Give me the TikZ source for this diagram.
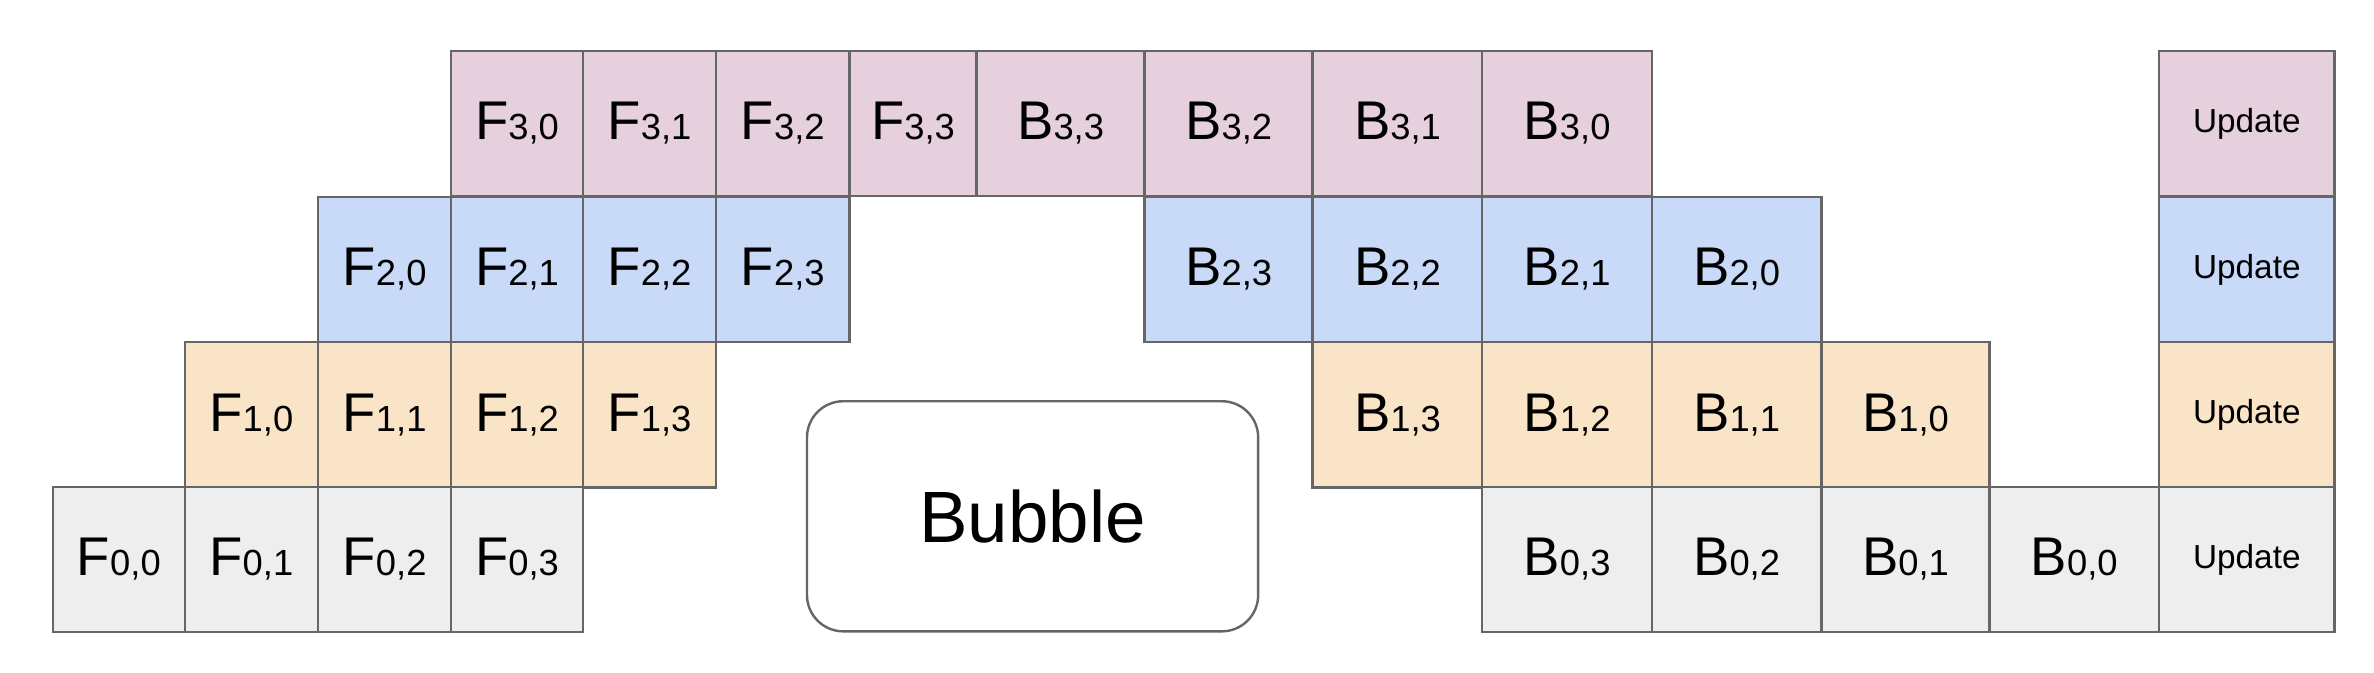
\documentclass[tikz,border=0pt]{standalone}
\usepackage{fontspec}
\setmainfont{Liberation Sans}
\definecolor{cpink}{HTML}{E6D0DE}
\definecolor{cblue}{HTML}{C9DAF8}
\definecolor{corange}{HTML}{F9E4C8}
\definecolor{cgray}{HTML}{EEEEEE}
\definecolor{cline}{HTML}{666666}
\newcommand\Lb[3]{#1{\fontsize{12}{12}\selectfont #2,#3}}
\newcommand\cell[6]{\node[cellbox,fill=#5,minimum width={(#3-#2)*0.5pt}] (#1) at ({(#2+#3)/2},#4) {#6};}
\begin{document}
\begin{tikzpicture}[x=0.5pt,y=-0.5pt,
  cellbox/.style={draw=cline,line width=0.8pt,minimum height=48pt,inner sep=0pt,font=\fontsize{18}{18}\selectfont},
  updbox/.style={font=\fontsize{11}{11}\selectfont}]
\useasboundingbox (0,0) rectangle (1568,444);
% row 3
\def\y{81.5}
\cell{f30}{298}{385}{\y}{cpink}{\Lb F30}
\cell{f31}{385}{473}{\y}{cpink}{\Lb F31}
\cell{f32}{473}{561}{\y}{cpink}{\Lb F32}
\cell{f33}{561}{645}{\y}{cpink}{\Lb F33}
\cell{b33}{645}{756}{\y}{cpink}{\Lb B33}
\cell{b32}{756}{867}{\y}{cpink}{\Lb B32}
\cell{b31}{867}{979}{\y}{cpink}{\Lb B31}
\cell{b30}{979}{1091}{\y}{cpink}{\Lb B30}
\cell{u3}{1426}{1542}{\y}{cpink}{\fontsize{11}{11}\selectfont Update}
% row 2
\def\y{178}
\cell{f20}{210}{298}{\y}{cblue}{\Lb F20}
\cell{f21}{298}{385}{\y}{cblue}{\Lb F21}
\cell{f22}{385}{473}{\y}{cblue}{\Lb F22}
\cell{f23}{473}{561}{\y}{cblue}{\Lb F23}
\cell{b23}{756}{867}{\y}{cblue}{\Lb B23}
\cell{b22}{867}{979}{\y}{cblue}{\Lb B22}
\cell{b21}{979}{1091}{\y}{cblue}{\Lb B21}
\cell{b20}{1091}{1203}{\y}{cblue}{\Lb B20}
\cell{u2}{1426}{1542}{\y}{cblue}{\fontsize{11}{11}\selectfont Update}
% row 1
\def\y{274}
\cell{f10}{122}{210}{\y}{corange}{\Lb F10}
\cell{f11}{210}{298}{\y}{corange}{\Lb F11}
\cell{f12}{298}{385}{\y}{corange}{\Lb F12}
\cell{f13}{385}{473}{\y}{corange}{\Lb F13}
\cell{b13}{867}{979}{\y}{corange}{\Lb B13}
\cell{b12}{979}{1091}{\y}{corange}{\Lb B12}
\cell{b11}{1091}{1203}{\y}{corange}{\Lb B11}
\cell{b10}{1203}{1314}{\y}{corange}{\Lb B10}
\cell{u1}{1426}{1542}{\y}{corange}{\fontsize{11}{11}\selectfont Update}
% row 0
\def\y{369.5}
\cell{f00}{35}{122}{\y}{cgray}{\Lb F00}
\cell{f01}{122}{210}{\y}{cgray}{\Lb F01}
\cell{f02}{210}{298}{\y}{cgray}{\Lb F02}
\cell{f03}{298}{385}{\y}{cgray}{\Lb F03}
\cell{b03}{979}{1091}{\y}{cgray}{\Lb B03}
\cell{b02}{1091}{1203}{\y}{cgray}{\Lb B02}
\cell{b01}{1203}{1314}{\y}{cgray}{\Lb B01}
\cell{b00}{1314}{1426}{\y}{cgray}{\Lb B00}
\cell{u0}{1426}{1542}{\y}{cgray}{\fontsize{11}{11}\selectfont Update}
% bubble
\node[draw=cline,line width=0.8pt,rounded corners=12pt,minimum width=149pt,minimum height=76pt,font=\fontsize{24}{24}\selectfont] (bubble) at (682,341) {Bubble};
\end{tikzpicture}
\end{document}
